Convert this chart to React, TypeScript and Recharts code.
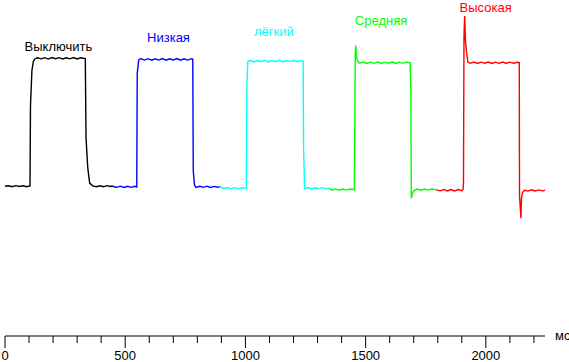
import { LineChart, Line, XAxis, YAxis, ReferenceDot } from 'recharts'

// brightness, % of full level, vs time (ms)
const vyklyuchit: [number, number][] = [
  [0, 0], [15, 0.4], [30, -0.3], [45, 0.5], [60, -0.2], [75, 0.4], [90, -0.3], [104, 0.2],
  [106, 63], [112, 90.6], [118, 97.5], [124, 99.5],
  [135, 100.4], [150, 99.6], [165, 100.5], [180, 99.4], [195, 100.6], [210, 99.7], [225, 100.5], [240, 99.5],
  [255, 100.4], [270, 99.6], [285, 100.6], [300, 99.5], [315, 100.4], [334, 99.8],
  [337, 38], [344, 15], [352, 2.5], [365, 0.3],
  [380, -0.4], [395, 0.4], [410, -0.3], [425, 0.5], [440, -0.2], [449, 0.2],
]
const nizkaya: [number, number][] = [
  [449, -0.2], [465, -0.8], [480, 0.1], [495, -0.9], [510, 0], [525, -0.8], [540, 0], [548, -0.5],
  [550, 88], [556, 98.5], [565, 99.8], [580, 98.6], [595, 99.7], [610, 98.5], [625, 99.6], [640, 98.6],
  [655, 99.8], [670, 98.5], [685, 99.6], [700, 98.7], [715, 99.8], [730, 98.5], [745, 99.6], [760, 98.6],
  [775, 99.7], [781, 99.4],
  [783, 12.5], [788, 1], [795, -0.9], [810, 0], [825, -0.8], [840, 0.1], [855, -0.9], [870, -0.1], [885, -0.8], [894, -0.3],
]
const legkiy: [number, number][] = [
  [894, -0.3], [910, -1.9], [925, -1.0], [940, -2.0], [955, -1.1], [970, -2.0], [985, -1.2], [1004, -1.6],
  [1006, 77.6], [1010, 97.5], [1020, 98.4], [1035, 97.2], [1050, 98.3], [1065, 97.3], [1080, 98.5], [1095, 97.2],
  [1110, 98.3], [1125, 97.3], [1140, 98.4], [1155, 97.2], [1170, 98.3], [1185, 97.4], [1200, 98.4], [1215, 97.3],
  [1230, 98.2], [1240, 97.8],
  [1242, 29.4], [1246, -1.8], [1260, -1.0], [1275, -2.1], [1290, -1.2], [1305, -2.0], [1320, -1.1], [1335, -2.0], [1347, -1.5],
]
const srednyaya: [number, number][] = [
  [1347, -1.5], [1360, -3.0], [1375, -2.1], [1390, -3.1], [1405, -2.2], [1420, -3.0], [1435, -2.1], [1453, -2.6],
  [1455, 50], [1457, 106], [1459, 110], [1462, 101], [1467, 98], [1475, 96.2], [1490, 97.1], [1505, 96.0],
  [1520, 97.0], [1535, 96.1], [1550, 97.2], [1565, 96.0], [1580, 97.0], [1595, 96.2], [1610, 97.1], [1625, 96.0],
  [1640, 97.0], [1655, 96.1], [1670, 97.0], [1685, 96.5],
  [1688, 75.6], [1690, -9.4], [1694, -6], [1700, -3.5], [1715, -2.2], [1730, -3.1], [1745, -2.2], [1760, -3.0],
  [1775, -2.1], [1795, -2.8],
]
const vysokaya: [number, number][] = [
  [1795, -2.8], [1810, -3.6], [1825, -2.5], [1840, -3.7], [1855, -2.6], [1870, -3.6], [1885, -2.6], [1900, -3.4], [1905, -2.5],
  [1907, 3.4], [1909, 117], [1912, 133], [1915, 114], [1919, 106], [1925, 97], [1935, 96.1], [1950, 97.1],
  [1965, 96.0], [1980, 97.0], [1995, 96.2], [2010, 97.1], [2025, 96.0], [2040, 97.0], [2055, 96.1], [2070, 97.1],
  [2085, 96.0], [2100, 97.0], [2115, 96.2], [2130, 96.9], [2139, 96.6],
  [2140, -8], [2146, -25], [2148, -9.4], [2152, -5], [2160, -3.1], [2175, -3.8], [2190, -2.7], [2205, -3.7],
  [2220, -2.8], [2235, -3.6], [2246, -3.1],
]

const seriesNames = ['Выключить', 'Низкая', 'лёгкий', 'Средняя', 'Высокая']
const seriesColors = ['#000000', '#0000ff', '#00ffff', '#00ff00', '#ff0000']
const seriesData = [vyklyuchit, nizkaya, legkiy, srednyaya, vysokaya]
// label anchors in data units (t, value)
const labelAt: [number, number][] = [[222, 109], [680, 116], [1118, 120.7], [1564, 129.3], [1999, 139.6]]

const xTicks = Array.from({ length: 23 }, (_, i) => i * 100)

const font = '"Liberation Sans", Arial, sans-serif'

function AxisTick({ x, y, payload }: any) {
  const major = payload.value % 500 === 0
  return (
    <g>
      <line x1={x} y1={y} x2={x} y2={y + (major ? 12 : 7)} stroke="#000" strokeWidth={1} />
      {major && (
        <text x={x} y={y + 23.5} textAnchor="middle" fontSize={13} fontFamily={font} fill="#000">
          {payload.value}
        </text>
      )}
    </g>
  )
}

export default function App() {
  return (
    <div style={{ position: 'absolute', left: 0, top: 0, background: '#fff' }}>
      <LineChart width={569} height={362} margin={{ top: 2, right: 24, bottom: 0, left: 5 }}>
        <XAxis
          type="number"
          dataKey="t"
          domain={[0, 2240]}
          ticks={xTicks}
          interval={0}
          height={26}
          tickSize={0}
          tickMargin={0}
          tickLine={false}
          axisLine={{ stroke: '#000', strokeWidth: 1 }}
          tick={<AxisTick />}
          label={({ viewBox }: any) => (
            <text x={viewBox.x + viewBox.width + 10} y={viewBox.y + 4} fontSize={13} fontFamily={font} fill="#000">
              мс
            </text>
          )}
        />
        <YAxis type="number" domain={[-117, 144]} hide />
        {seriesData.map((d, i) => (
          <Line
            key={seriesNames[i]}
            data={d.map(([t, v]) => ({ t, v }))}
            dataKey="v"
            type="linear"
            stroke={seriesColors[i]}
            strokeWidth={1.4}
            dot={false}
            activeDot={false}
            isAnimationActive={false}
          />
        ))}
        {labelAt.map(([t, v], i) => (
          <ReferenceDot
            key={i}
            x={t}
            y={v}
            r={0}
            fill="none"
            stroke="none"
            label={{ value: seriesNames[i], position: 'center', fill: seriesColors[i], fontSize: 13, fontFamily: font }}
          />
        ))}
      </LineChart>
    </div>
  )
}
